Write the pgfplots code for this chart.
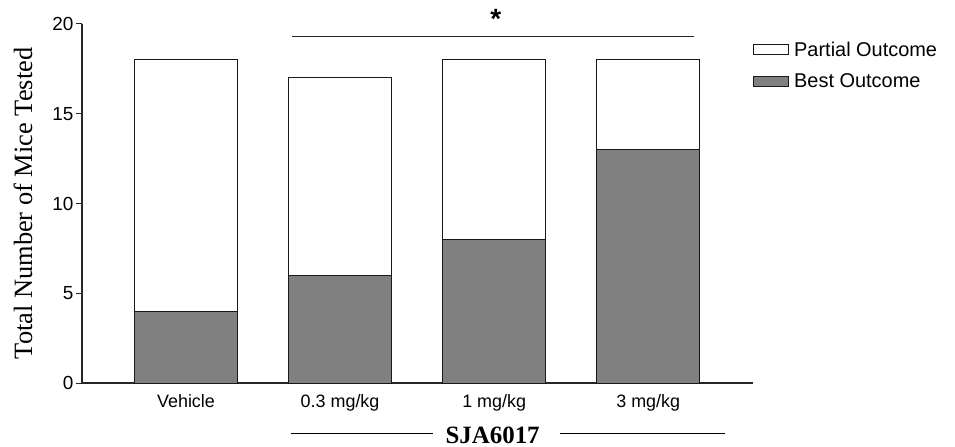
\documentclass[border=0pt]{standalone}
\usepackage{fontspec}
\setmainfont{Liberation Sans}
\newfontfamily\timesfont{Liberation Serif}
\usepackage{pgfplots}
\pgfplotsset{compat=1.18}
\definecolor{bestgray}{RGB}{128,128,128}

\begin{document}
\begin{tikzpicture}
  \begin{axis}[
    scale only axis,
    width=671bp, height=359bp,
    ybar stacked,
    bar width=103bp,
    xmin=-0.675, xmax=3.68,
    ymin=0, ymax=20,
    axis x line=bottom, axis y line=left,
    axis line style={-, line width=1.1bp, black!85},
    xtick=data,
    xticklabels={Vehicle, 0.3 mg/kg, 1 mg/kg, 3 mg/kg},
    x tick style={draw=none},
    ytick={0,5,10,15,20},
    y tick style={line width=1bp, black!85},
    major tick length=6bp,
    tick align=outside,
    tick label style={font=\fontsize{18}{18}\selectfont},
    yticklabel style={font=\fontsize{19}{19}\selectfont, xshift=1bp},
    /pgf/number format/assume math mode=true,
    xticklabel style={yshift=-2bp},
    ylabel={\timesfont Total Number of Mice Tested},
    ylabel style={font=\fontsize{26.5}{26.5}\selectfont, at={([xshift=-46bp]rel axis cs:0,0.5)}, anchor=south},
    clip=false,
    reverse legend,
    legend style={draw=none, fill=none, at={([xshift=0bp,yshift=-4bp]rel axis cs:1.0,0.965)}, anchor=north west,
      font=\fontsize{20}{20}\selectfont, row sep=14bp, inner sep=0pt,
      nodes={inner xsep=5bp, inner ysep=1bp}},
    legend cell align=left,
    legend image code/.code={\draw[#1, line width=1bp] (0bp,-5bp) rectangle (35bp,5bp);},
  ]
    \addplot[fill=bestgray, draw=black!90, line width=1bp] coordinates {(0,4) (1,6) (2,8) (3,13)};
    \addlegendentry{Best Outcome}
    \addplot[fill=white, draw=black!90, line width=1bp] coordinates {(0,14) (1,11) (2,10) (3,5)};
    \addlegendentry{Partial Outcome}

    % significance bar
    \draw[line width=1bp, black!85] (axis cs:0.69,19.33) -- (axis cs:3.30,19.33);
    \node[font=\fontsize{28}{28}\selectfont\bfseries] at (axis cs:2.01,20.3) {*};

    % drug bracket
    \draw[line width=1.1bp] (axis cs:0.68,-2.79) -- (axis cs:1.60,-2.79);
    \draw[line width=1.1bp] (axis cs:2.43,-2.79) -- (axis cs:3.50,-2.79);
    \node[font=\fontsize{25}{25}\selectfont\timesfont\bfseries] at (axis cs:1.99,-2.9) {SJA6017};
  \end{axis}
  \useasboundingbox (-82bp,-64bp) rectangle (873bp,383bp);
\end{tikzpicture}
\end{document}
